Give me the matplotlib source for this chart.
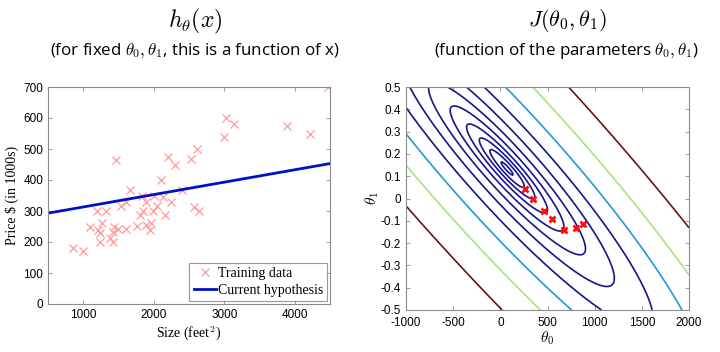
import numpy as np
import matplotlib.pyplot as plt

plt.rcParams['mathtext.fontset'] = 'cm'
plt.rcParams['axes.unicode_minus'] = False

# housing training data: size (feet^2) and price ($1000s)
size = np.array([2104, 1600, 2400, 1416, 3000, 1985, 1534, 1427, 1380, 1494,
                 1940, 2000, 1890, 4478, 1268, 2300, 1320, 1236, 2609, 3031,
                 1767, 1888, 1604, 1962, 3890, 1100, 1458, 2526, 2200, 2637,
                 1839, 1000, 2040, 3137, 1811, 1437, 1239, 2132, 4215, 2162,
                 1664, 2238, 2567, 1200, 852, 1852, 1203])
price = np.array([399.9, 329.9, 369.0, 232.0, 539.9, 299.9, 314.9, 199.0, 212.0, 242.5,
                  240.0, 347.0, 330.0, 699.9, 259.9, 449.9, 299.9, 199.9, 500.0, 599.0,
                  252.9, 255.0, 242.9, 259.9, 573.9, 249.9, 464.5, 469.0, 475.0, 299.9,
                  349.9, 169.9, 314.9, 579.9, 285.9, 249.9, 229.9, 345.0, 549.0, 287.0,
                  368.5, 329.9, 314.0, 299.0, 179.9, 299.9, 239.5])

# current hypothesis h(x) = theta0 + theta1 * x
hyp_theta0 = 273.0
hyp_theta1 = 0.04
hyp_x = np.array([500, 4500])

# gradient descent steps shown on the cost contour
path_theta0 = [264, 348, 468, 546, 673, 800, 878]
path_theta1 = [0.042, 0.0, -0.055, -0.091, -0.141, -0.132, -0.114]

# contour levels of J and their colours
j_levels = np.logspace(1, 6, 20)
j_colors = ['#15168a'] * 17 + ['#1f98dc', '#a6e57a', '#6a1414']

left_xticks = [1000, 2000, 3000, 4000]
left_yticks = [0, 100, 200, 300, 400, 500, 600, 700]
right_xticks = [-1000, -500, 0, 500, 1000, 1500, 2000]
right_xticklabels = ['-1000', '-500', '0', '500', '1000', '1500', '2000']
right_yticks = [-0.5, -0.4, -0.3, -0.2, -0.1, 0, 0.1, 0.2, 0.3, 0.4, 0.5]
right_yticklabels = ['-0.5', '-0.4', '-0.3', '-0.2', '-0.1', '0',
                     '0.1', '0.2', '0.3', '0.4', '0.5']

serif = 'Liberation Serif'
sans = 'Liberation Sans'
label_font = 'Open Sans'

fig = plt.figure(figsize=(7.2, 3.52), dpi=100)
ax1 = fig.add_axes([48 / 720, 1 - 304 / 352, 282 / 720, 217 / 352])
ax2 = fig.add_axes([406 / 720, 1 - 310 / 352, 283 / 720, 223 / 352])

# ---- left: data and hypothesis
ax1.plot(size, price, 'x', color='#ff9a9a', ms=5.5, mew=0.9, label='Training data')
ax1.plot(hyp_x, hyp_theta0 + hyp_theta1 * hyp_x, color='#0012c4', lw=2,
         label='Current hypothesis')
ax1.set_xlim(500, 4500)
ax1.set_ylim(0, 700)
ax1.set_xticks(left_xticks)
ax1.set_yticks(left_yticks)
ax1.set_xlabel('Size (feet$^2$)', fontfamily=serif, fontsize=10, labelpad=2)
ax1.set_ylabel('Price \\$ (in 1000s)', fontfamily=serif, fontsize=10, labelpad=3)
leg = ax1.legend(loc='lower right', prop={'family': serif, 'size': 10},
                 fancybox=False, borderaxespad=0.2, handlelength=1.6,
                 handletextpad=0.15, borderpad=0.3, labelspacing=0.3)
leg.get_frame().set_edgecolor('0.5')
leg.get_frame().set_linewidth(0.8)

# ---- right: cost function J(theta0, theta1)
t0 = np.linspace(-1000, 2000, 301)
t1 = np.linspace(-0.5, 0.5, 301)
T0, T1 = np.meshgrid(t0, t1)
J = ((T0[..., None] + T1[..., None] * size - price) ** 2).mean(axis=-1) / 2
ax2.contour(T0, T1, J, levels=j_levels, colors=j_colors, linewidths=1.2)
ax2.plot(path_theta0, path_theta1, 'x', color='#ff1010', ms=5, mew=2, ls='none')
ax2.set_xlim(-1000, 2000)
ax2.set_ylim(-0.5, 0.5)
ax2.set_xticks(right_xticks)
ax2.set_xticklabels(right_xticklabels)
ax2.set_yticks(right_yticks)
ax2.set_yticklabels(right_yticklabels)
ax2.set_xlabel(r'$\theta_0$', fontsize=11, labelpad=0)
ax2.set_ylabel(r'$\theta_1$', fontsize=11, labelpad=0)

for ax in (ax1, ax2):
    ax.tick_params(direction='in', top=True, right=True, length=3,
                   width=0.6, color='0.55', labelsize=8.5)
    for lab in ax.get_xticklabels() + ax.get_yticklabels():
        lab.set_fontfamily(sans)
    for sp in ax.spines.values():
        sp.set_color('0.55')
        sp.set_linewidth(0.8)
ax2.tick_params(axis='x', pad=5)

# ---- headings
fig.text(195 / 720, 1 - 21 / 352, r'$h_\theta(x)$', fontsize=17,
         ha='center', va='center')
fig.text(195 / 720, 1 - 51 / 352,
         r'(for fixed $\theta_0, \theta_1$, this is a function of x)',
         fontfamily=label_font, fontsize=12.2, ha='center', va='center')
fig.text(567 / 720, 1 - 21 / 352, r'$J(\theta_0, \theta_1)$', fontsize=16,
         ha='center', va='center')
fig.text(566 / 720, 1 - 51 / 352,
         r'(function of the parameters $\theta_0, \theta_1$)',
         fontfamily=label_font, fontsize=12.2, ha='center', va='center')

plt.savefig('out.png', dpi=100)
plt.close()
